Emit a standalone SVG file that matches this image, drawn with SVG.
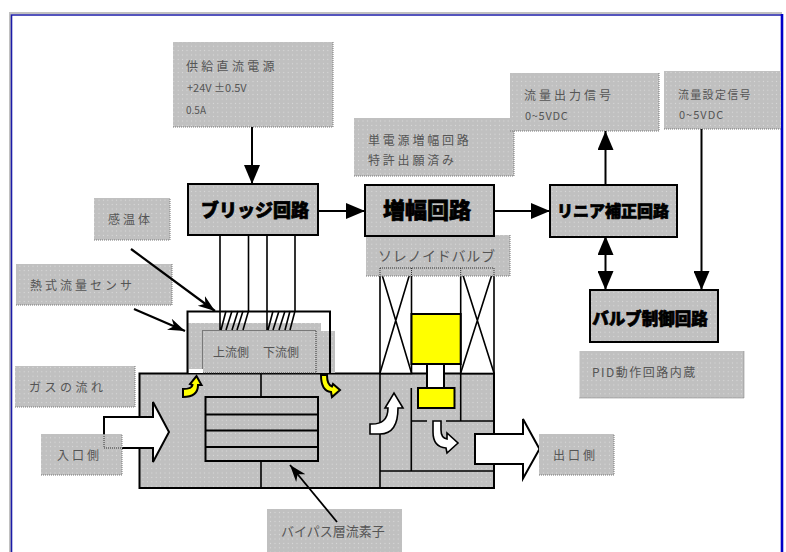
<svg xmlns="http://www.w3.org/2000/svg" width="786" height="552" viewBox="0 0 786 552">
<style>
text{font-family:"Noto Sans CJK JP","Noto Sans CJK SC",sans-serif}
.lb{fill:url(#dots)}
.lbe{fill:none;stroke:#777;stroke-width:1;stroke-dasharray:1 1}
.t{font-size:12px;fill:#555}
.h{font-size:17px;font-weight:900;fill:#000;stroke:#000;stroke-width:.7;text-anchor:middle}
.box{fill:url(#dots);stroke:#000;stroke-width:2}
.ln{fill:none;stroke:#000;stroke-width:2}
.th{fill:none;stroke:#000;stroke-width:1.6}
.wh{fill:#fff;stroke:#000;stroke-width:2}
.ye{fill:#ff0;stroke:#000;stroke-width:2}
.dot{fill:none;stroke:#333;stroke-width:1;stroke-dasharray:1 1}
</style>
<defs>
<pattern id="dots" width="4.4" height="4.4" patternUnits="userSpaceOnUse">
<rect width="4.4" height="4.4" fill="#c0c0c0"/>
<circle cx="2.2" cy="2.2" r=".6" fill="#dcdcdc"/>
</pattern>
<marker id="ah" markerUnits="userSpaceOnUse" markerWidth="19" markerHeight="16" refX="19" refY="8" orient="auto">
<path d="M0,0 L19,8 L0,16 Z" fill="#000"/>
</marker>
<marker id="bar" markerUnits="userSpaceOnUse" markerWidth="18" markerHeight="14" refX="17" refY="7" orient="auto">
<path d="M0,1 L17,7 L0,13 L5,7 Z" fill="#000"/>
</marker>
</defs>
<rect width="786" height="552" fill="#fff"/>
<g id="frame">
<path d="M10,552 V13 H782" fill="none" stroke="#c0c0c0" stroke-width="2"/>
<path d="M11.500,552 V15 H781" fill="none" stroke="#1c1ca8" stroke-width="1.600"/>
<path d="M782,14 V552" fill="none" stroke="#0000c8" stroke-width="2.600"/>
</g>

<g id="body">
<rect x="139.500" y="373.500" width="354.500" height="114.500" class="box"/>
<path class="th" d="M261,374 V397 M261,461 V488 M380,374 V488 M411.300,388 V471 M380,471 H494 M412,421 H427 M446,421 H494 M460.700,374 V421"/>
</g>
<g id="bypass-element">
<rect x="205.500" y="397" width="112.500" height="64" fill="url(#dots)" stroke="#000" stroke-width="2"/>
<path class="ln" d="M205.500,414.500 H318 M205.500,430.500 H318 M205.500,447 H318"/>
</g>
<g id="sensor">
<rect x="188" y="323" width="133" height="50" class="lb"/>
<rect x="316" y="331" width="19" height="42" class="lb"/>
<rect x="202.500" y="330.500" width="113.500" height="42.500" class="dot"/>
<rect x="189" y="369" width="14" height="4" fill="#fff"/>
<path class="ln" d="M187.500,373 V311.500 H330 V373"/>
<path class="th" d="M220,235 V330 M248.500,235 V311 L243,330 M267,235 V330 M295,235 V311 L290,330 M226,311 L221,330 M232,311 L226,330 M238,311 L232,330 M243,311 L237,330 M273,311 L268,330 M279,311 L273,330 M285,311 L279,330 M290,311 L285,330"/>
<text class="t" x="213" y="356.500">上流側</text>
<text class="t" x="263" y="356.500">下流側</text>
</g>
<g id="solenoid">
<rect x="380" y="268" width="31.500" height="105.500" fill="#fff" stroke="#000" stroke-width="1.600"/>
<rect x="460.700" y="268" width="33.300" height="105.500" fill="#fff" stroke="#000" stroke-width="1.600"/>
<path class="th" d="M380,268 L411.500,373 M411.500,268 L380,373 M460.700,268 L494,373 M494,268 L460.700,373"/>
<rect x="427" y="364" width="17" height="24" class="wh"/>
<rect x="411.500" y="314" width="49.200" height="50" class="ye"/>
<rect x="418" y="388" width="36.500" height="20" class="ye"/>
</g>
<g id="flow-arrows">
<path class="wh" d="M104,417 H153 V402 L169,432 L153,462 V448 H104 Z"/>
<path class="wh" d="M475,434 H523 V419 L539.500,449 L523,478.500 V464 H475 Z"/>
<path d="M183,397 Q198,397 198,385 L201.500,385 L196.500,376 L190,384 L192.500,385 Q192,389 183,389 Z" fill="#ff0" stroke="#000" stroke-width="2"/>
<path d="M321,375 Q321,391 331,392 L332,397 L340,390 L333,384 L332,386.500 Q327,385 327,375 Z" fill="#ff0" stroke="#000" stroke-width="2"/>
<path d="M370,424 Q388,425 388,408 L385,408 L394,393 L403,408 L398,408 Q398,434 380,434 L370,434 Z" fill="#fff" stroke="#000" stroke-width="1.600"/>
<path d="M433,421 L433,432 Q433,447 446,448 L447,453 L458,443 L447,433 L447,439 Q441,438 441,430 L441,421 Z" fill="#fff" stroke="#000" stroke-width="1.600"/>
</g>

<g id="label-power"><rect x="173" y="42" width="160" height="85" class="lb"/><path class="lbe" d="M173,127 H333 V42"/>
<text class="t" x="186" y="71" style="letter-spacing:3.300px">供給直流電源</text>
<text class="t" x="187" y="92" style="font-size:11px">+24V ±0.5V</text>
<text class="t" x="186" y="114" style="font-size:10px">0.5A</text></g>
<g id="label-amp-note"><rect x="354" y="118" width="160" height="58" class="lb"/><path class="lbe" d="M354,176 H514 V118"/>
<text class="t" x="368" y="145" style="letter-spacing:2.800px">単電源増幅回路</text>
<text class="t" x="368" y="165" style="letter-spacing:2.800px">特許出願済み</text></g>
<g id="label-output"><rect x="510" y="73" width="149" height="58" class="lb"/><path class="lbe" d="M510,131 H659 V73"/>
<text class="t" x="524" y="100" style="letter-spacing:3px">流量出力信号</text>
<text class="t" x="525" y="120" style="font-size:11px;letter-spacing:.7px">0~5VDC</text></g>
<g id="label-setpoint"><rect x="664" y="71" width="117" height="58" class="lb"/><path class="lbe" d="M664,129 H781"/>
<text class="t" x="678" y="99" style="font-size:11px;letter-spacing:1.300px">流量設定信号</text>
<text class="t" x="679" y="119" style="font-size:11px;letter-spacing:1px">0~5VDC</text></g>
<g id="label-solenoid"><rect x="366" y="235" width="144" height="41" class="lb"/><path class="lbe" d="M366,276 H510 V235"/>
<text class="t" x="378" y="261" style="font-size:14px;letter-spacing:.7px">ソレノイドバルブ</text>
<path class="dot" d="M380,268 H494 M380,268 V276 M411.500,268 V276 M460.700,268 V276 M494,268 V276"/></g>
<g id="label-thermistor"><rect x="94" y="198" width="76" height="42" class="lb"/><path class="lbe" d="M94,240 H170 V198"/>
<text class="t" x="108" y="224" style="letter-spacing:3px">感温体</text></g>
<g id="label-sensor"><rect x="16" y="264" width="156" height="41" class="lb"/><path class="lbe" d="M16,305 H172 V264"/>
<text class="t" x="30" y="290" style="letter-spacing:3px">熱式流量センサ</text></g>
<g id="label-gasflow"><rect x="15" y="366" width="120" height="41" class="lb"/><path class="lbe" d="M15,407 H135 V366"/>
<text class="t" x="29" y="392" style="letter-spacing:3.500px">ガスの流れ</text></g>
<g id="label-inlet"><rect x="41" y="434" width="81" height="41" class="lb"/><path class="lbe" d="M41,475 H122 V434"/>
<text class="t" x="57" y="460" style="letter-spacing:3px">入口側</text>
<path class="dot" d="M104,434 V448 H122"/></g>
<g id="label-outlet"><rect x="539" y="434" width="75" height="41" class="lb"/><path class="lbe" d="M539,475 H614 V434"/>
<text class="t" x="553" y="460" style="letter-spacing:3px">出口側</text></g>
<g id="label-bypass"><rect x="267" y="509" width="135" height="43" class="lb"/>
<text class="t" x="281" y="536" style="font-size:13px">バイパス層流素子</text></g>
<g id="label-pid"><rect x="579.500" y="351" width="164.500" height="47" class="lb"/><path class="lbe" d="M579.500,398 H744 V351"/>
<text class="t" x="592" y="377" style="letter-spacing:1.500px">PID動作回路内蔵</text></g>

<g id="bridge"><rect x="188" y="184" width="130" height="51" class="box"/><text class="h" x="255" y="217" style="font-size:18px">ブリッジ回路</text></g>
<g id="amp"><rect x="365" y="185" width="129" height="51" class="box"/><text class="h" x="427" y="218" style="font-size:22px">増幅回路</text></g>
<g id="linear"><rect x="550" y="185" width="127" height="52" class="box"/><text class="h" x="613" y="216.500" style="font-size:16px">リニア補正回路</text></g>
<g id="valve-control"><rect x="590" y="290" width="128" height="52" class="box"/><text class="h" x="650" y="325" style="font-size:16.500px">バルブ制御回路</text></g>

<g id="connectors">
<path class="ln" marker-end="url(#ah)" d="M252,127 V184"/>
<path class="ln" marker-end="url(#ah)" d="M319,211 H365"/>
<path class="ln" marker-end="url(#ah)" d="M495,211 H550"/>
<path class="ln" marker-end="url(#ah)" d="M605.500,184 V131"/>
<path class="ln" marker-end="url(#ah)" d="M605.500,262 V236"/>
<path class="ln" marker-end="url(#ah)" d="M605.500,262 V290"/>
<path class="ln" marker-end="url(#ah)" d="M701.500,129 V290"/>
<path fill="none" stroke="#000" stroke-width="2.200" marker-end="url(#bar)" d="M131,249 L215,311"/>
<path fill="none" stroke="#000" stroke-width="2.200" marker-end="url(#bar)" d="M134,309 L185,331"/>
<path fill="none" stroke="#000" stroke-width="1.800" marker-end="url(#bar)" d="M337,522 L290,465"/>
</g>
</svg>
